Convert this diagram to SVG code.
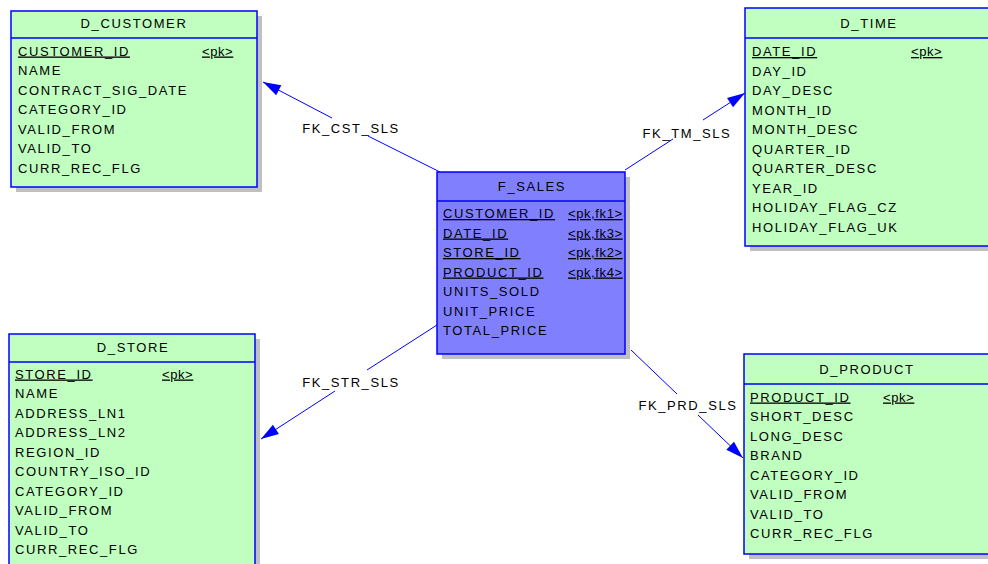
<svg xmlns="http://www.w3.org/2000/svg" width="988" height="564" viewBox="0 0 988 564">
  <style>
    .shadow { fill: #c0c0c0; }
    .dim { fill: #c0ffc0; stroke: #0000ff; stroke-width: 1.5; }
    .fact { fill: #8080ff; stroke: #0000ff; stroke-width: 1.5; }
    .sep { stroke: #0000ff; stroke-width: 1.5; }
    text { font-family: "Liberation Sans", Arial, sans-serif; font-size: 13px; fill: #000; letter-spacing: 1.6px; }
    .title { text-anchor: middle; }
    .key { text-decoration: underline; }
    .tag { letter-spacing: 0.6px; text-decoration: underline; }
    .fk { stroke: #0000ff; stroke-width: 1; fill: none; }
  </style>
  <defs>
    <marker id="arrow" markerUnits="userSpaceOnUse" markerWidth="20" markerHeight="14" viewBox="-17 -6 18 12" refX="0" refY="0" orient="auto">
      <path d="M0,0 L-16,-5 L-16,5 Z" fill="#0000ff"/>
    </marker>
  </defs>
  <rect width="988" height="564" fill="#ffffff"/>

  <!-- foreign key connectors -->
  <g id="connectors">
    <g id="fk_cst_sls">
      <path class="fk" d="M440,172 L368,136"/>
      <path class="fk" d="M332,118 L263,82" marker-end="url(#arrow)"/>
      <text x="351" y="133" class="title">FK_CST_SLS</text>
    </g>
    <g id="fk_tm_sls">
      <path class="fk" d="M625,170 L673,139"/>
      <path class="fk" d="M703,120 L745,93" marker-end="url(#arrow)"/>
      <text x="687" y="138" class="title">FK_TM_SLS</text>
    </g>
    <g id="fk_str_sls">
      <path class="fk" d="M437,325 L367,370"/>
      <path class="fk" d="M335,391 L261,439" marker-end="url(#arrow)"/>
      <text x="351" y="387" class="title">FK_STR_SLS</text>
    </g>
    <g id="fk_prd_sls">
      <path class="fk" d="M631,350 L677,394"/>
      <path class="fk" d="M698,415 L743,458" marker-end="url(#arrow)"/>
      <text x="688" y="410" class="title">FK_PRD_SLS</text>
    </g>
  </g>

  <!-- D_CUSTOMER -->
  <g id="d_customer">
    <rect class="shadow" x="16" y="16" width="246" height="176"/>
    <rect class="dim" x="11" y="11" width="246" height="176"/>
    <line class="sep" x1="11" y1="38" x2="257" y2="38"/>
    <text x="134" y="28" class="title">D_CUSTOMER</text>
    <text x="18" y="55.5" class="key">CUSTOMER_ID</text>
    <text x="202" y="55.5" class="tag">&lt;pk&gt;</text>
    <text x="18" y="75">NAME</text>
    <text x="18" y="94.5">CONTRACT_SIG_DATE</text>
    <text x="18" y="114">CATEGORY_ID</text>
    <text x="18" y="133.5">VALID_FROM</text>
    <text x="18" y="153">VALID_TO</text>
    <text x="18" y="172.5">CURR_REC_FLG</text>
  </g>

  <!-- D_TIME -->
  <g id="d_time">
    <rect class="shadow" x="750" y="13" width="246" height="238"/>
    <rect class="dim" x="745" y="8" width="246" height="238"/>
    <line class="sep" x1="745" y1="38" x2="991" y2="38"/>
    <text x="869" y="28" class="title">D_TIME</text>
    <text x="752" y="56" class="key">DATE_ID</text>
    <text x="911" y="56" class="tag">&lt;pk&gt;</text>
    <text x="752" y="75.5">DAY_ID</text>
    <text x="752" y="95">DAY_DESC</text>
    <text x="752" y="114.5">MONTH_ID</text>
    <text x="752" y="134">MONTH_DESC</text>
    <text x="752" y="153.5">QUARTER_ID</text>
    <text x="752" y="173">QUARTER_DESC</text>
    <text x="752" y="192.5">YEAR_ID</text>
    <text x="752" y="212">HOLIDAY_FLAG_CZ</text>
    <text x="752" y="231.5">HOLIDAY_FLAG_UK</text>
  </g>

  <!-- F_SALES -->
  <g id="f_sales">
    <rect class="shadow" x="442" y="177" width="188" height="182"/>
    <rect class="fact" x="437" y="172" width="188" height="182"/>
    <line class="sep" x1="437" y1="201" x2="625" y2="201"/>
    <text x="532" y="191" class="title">F_SALES</text>
    <text x="443" y="218" class="key">CUSTOMER_ID</text>
    <text x="568" y="218" class="tag">&lt;pk,fk1&gt;</text>
    <text x="443" y="237.5" class="key">DATE_ID</text>
    <text x="568" y="237.5" class="tag">&lt;pk,fk3&gt;</text>
    <text x="443" y="257" class="key">STORE_ID</text>
    <text x="568" y="257" class="tag">&lt;pk,fk2&gt;</text>
    <text x="443" y="276.5" class="key">PRODUCT_ID</text>
    <text x="568" y="276.5" class="tag">&lt;pk,fk4&gt;</text>
    <text x="443" y="296">UNITS_SOLD</text>
    <text x="443" y="315.5">UNIT_PRICE</text>
    <text x="443" y="335">TOTAL_PRICE</text>
  </g>

  <!-- D_STORE -->
  <g id="d_store">
    <rect class="shadow" x="14" y="339" width="246" height="240"/>
    <rect class="dim" x="9" y="334" width="246" height="240"/>
    <line class="sep" x1="9" y1="362" x2="255" y2="362"/>
    <text x="133" y="352" class="title">D_STORE</text>
    <text x="15" y="378.5" class="key">STORE_ID</text>
    <text x="162" y="378.5" class="tag">&lt;pk&gt;</text>
    <text x="15" y="398">NAME</text>
    <text x="15" y="417.5">ADDRESS_LN1</text>
    <text x="15" y="437">ADDRESS_LN2</text>
    <text x="15" y="456.5">REGION_ID</text>
    <text x="15" y="476">COUNTRY_ISO_ID</text>
    <text x="15" y="495.5">CATEGORY_ID</text>
    <text x="15" y="515">VALID_FROM</text>
    <text x="15" y="534.5">VALID_TO</text>
    <text x="15" y="554">CURR_REC_FLG</text>
  </g>

  <!-- D_PRODUCT -->
  <g id="d_product">
    <rect class="shadow" x="749" y="359" width="246" height="200"/>
    <rect class="dim" x="744" y="354" width="246" height="200"/>
    <line class="sep" x1="744" y1="384" x2="990" y2="384"/>
    <text x="867" y="374" class="title">D_PRODUCT</text>
    <text x="750" y="401.5" class="key">PRODUCT_ID</text>
    <text x="883" y="401.5" class="tag">&lt;pk&gt;</text>
    <text x="750" y="421">SHORT_DESC</text>
    <text x="750" y="440.5">LONG_DESC</text>
    <text x="750" y="460">BRAND</text>
    <text x="750" y="479.5">CATEGORY_ID</text>
    <text x="750" y="499">VALID_FROM</text>
    <text x="750" y="518.5">VALID_TO</text>
    <text x="750" y="538">CURR_REC_FLG</text>
  </g>
</svg>
